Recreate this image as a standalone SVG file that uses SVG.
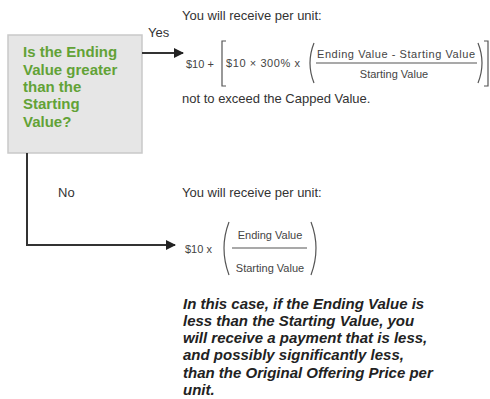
<svg xmlns="http://www.w3.org/2000/svg" width="490" height="399" viewBox="0 0 490 399">
<defs>
<style>
.t{font-family:"Liberation Sans",Arial,sans-serif;font-size:13px;fill:#333}
.q{font-family:"Liberation Sans",Arial,sans-serif;font-size:15px;font-weight:bold;fill:#62a236}
.f{font-family:"Liberation Sans",Arial,sans-serif;font-size:11px;fill:#444}
.p{font-family:"Liberation Sans",Arial,sans-serif;font-size:15px;font-weight:bold;font-style:italic;fill:#222}
.c{fill:none;stroke:#333;stroke-width:2}
.b{fill:none;stroke:#555;stroke-width:1.2}
</style>
<marker id="ah" markerWidth="10" markerHeight="10" refX="9" refY="5" orient="auto" markerUnits="userSpaceOnUse" viewBox="0 0 10 10">
<path d="M0,0 L10,5 L0,10 z" fill="#222"/>
</marker>
</defs>
<rect width="490" height="399" fill="#fff"/>
<g id="question">
<rect x="8" y="35" width="134" height="118" fill="#e6e6e6" stroke="#c9c9c9" stroke-width="1.5"/>
<text class="q" x="23" y="57">Is the Ending</text>
<text class="q" x="23" y="74.5">Value greater</text>
<text class="q" x="23" y="92">than the</text>
<text class="q" x="23" y="109">Starting</text>
<text class="q" x="23" y="126.5">Value?</text>
</g>
<g id="connectors">
<line class="c" x1="142" y1="53" x2="183" y2="53" marker-end="url(#ah)"/>
<polyline class="c" points="27,153 27,245 175,245" marker-end="url(#ah)"/>
<text class="t" x="148" y="37">Yes</text>
<text class="t" x="58" y="197">No</text>
</g>
<g id="yes-result">
<text class="t" x="182" y="20">You will receive per unit:</text>
<text class="f" x="186" y="68">$10 +</text>
<path class="b" d="M226,41 H222 V86 H226"/>
<text class="f" x="226" y="67" textLength="74" lengthAdjust="spacing">$10 × 300% x</text>
<path class="b" d="M314,43 Q306,63 314,83"/>
<text class="f" x="317" y="58" textLength="158" lengthAdjust="spacing">Ending Value - Starting Value</text>
<line x1="316" y1="63" x2="477" y2="63" stroke="#555" stroke-width="1.2"/>
<text class="f" x="394" y="78" text-anchor="middle">Starting Value</text>
<path class="b" d="M478,43 Q486,63 478,83"/>
<path class="b" d="M484,41 H488 V86 H484"/>
<text class="t" x="182" y="103">not to exceed the Capped Value.</text>
</g>
<g id="no-result">
<text class="t" x="182" y="197">You will receive per unit:</text>
<text class="f" x="185" y="253">$10 x</text>
<path class="b" d="M229,222 Q219,248 229,275"/>
<text class="f" x="270" y="239" text-anchor="middle">Ending Value</text>
<line x1="232" y1="248" x2="307" y2="248" stroke="#555" stroke-width="1.2"/>
<text class="f" x="270" y="272" text-anchor="middle">Starting Value</text>
<path class="b" d="M311,222 Q321,248 311,275"/>
<text class="p" x="183" y="308.5">In this case, if the Ending Value is</text>
<text class="p" x="183" y="325.8">less than the Starting Value, you</text>
<text class="p" x="183" y="343.1">will receive a payment that is less,</text>
<text class="p" x="183" y="360.4">and possibly significantly less,</text>
<text class="p" x="183" y="377.7">than the Original Offering Price per</text>
<text class="p" x="183" y="395">unit.</text>
</g>
</svg>
